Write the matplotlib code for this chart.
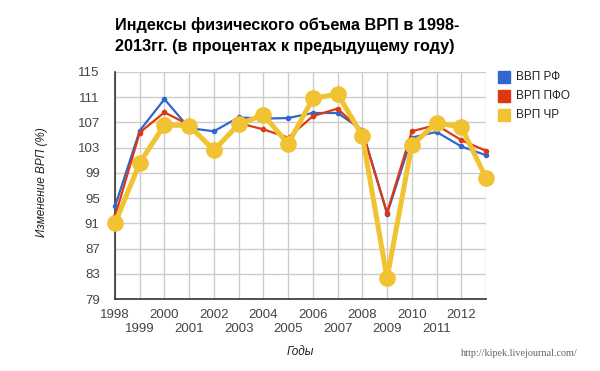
import numpy as np
import matplotlib.pyplot as plt

years = list(range(1998, 2014))
vvp_rf = [93.7, 105.7, 110.7, 106.1, 105.6, 107.8, 107.6, 107.7, 108.5, 108.5, 105.8, 92.5, 104.6, 105.5, 103.2, 101.8]
vrp_pfo = [92.1, 105.4, 108.6, 106.6, 102.6, 106.9, 105.9, 104.6, 108.0, 109.2, 105.5, 92.7, 105.6, 106.6, 104.2, 102.5]
vrp_chr = [91.0, 100.6, 106.6, 106.5, 102.6, 106.7, 108.2, 103.6, 110.8, 111.5, 104.9, 82.3, 103.4, 106.9, 106.3, 98.2]
series_names = ['ВВП РФ', 'ВРП ПФО', 'ВРП ЧР']
colors = ['#3366cc', '#dc3912', '#f1c232']
yticks = list(range(79, 116, 4))

plt.rcParams['font.family'] = ['Liberation Sans', 'DejaVu Sans']

fig = plt.figure(figsize=(6, 3.71), dpi=100)
ax = fig.add_axes([115/600, 1 - 299/371, (486 - 115)/600, (299 - 72)/371])

ax.plot(years, vvp_rf, color=colors[0], lw=1.6, marker='o', ms=3, clip_on=False, zorder=3)
ax.plot(years, vrp_pfo, color=colors[1], lw=1.6, marker='o', ms=3, clip_on=False, zorder=4)
ax.plot(years, vrp_chr, color=colors[2], lw=3.6, marker='o', ms=11, clip_on=False, zorder=5)

# подписи через год в два ряда, последний год без подписи
even = [y for y in years if y % 2 == 0]
odd = [y for y in years if y % 2 == 1]
ax.set_xlim(1998, 2013)
ax.set_ylim(79, 115)
ax.set_yticks(yticks)
ax.set_xticks(even)
ax.set_xticks(odd, minor=True)
ax.set_xticklabels([str(y) for y in even])
ax.set_xticklabels([str(y) if y != 2013 else '' for y in odd], minor=True)
ax.tick_params(axis='x', which='major', length=0, pad=7, labelsize=9.5, labelcolor='#444444')
ax.tick_params(axis='x', which='minor', length=0, pad=17, labelsize=9.5, labelcolor='#444444')
ax.tick_params(axis='y', length=0, pad=11, labelsize=9.5, labelcolor='#444444')
ax.grid(True, which='both', color='#cccccc', lw=1)
ax.set_axisbelow(True)
for s in ['top', 'right']:
    ax.spines[s].set_visible(False)
for s in ['left', 'bottom']:
    ax.spines[s].set_color('#333333')
    ax.spines[s].set_linewidth(1.2)
    ax.spines[s].set_zorder(2)

fig.text(300/600, 1 - 352/371, 'Годы', ha='center', va='center', fontsize=8.5, style='italic', color='#222222')
fig.text(42/600, 1 - 182/371, 'Изменение ВРП (%)', ha='center', va='center', rotation=90,
         fontsize=8.5, style='italic', color='#222222')

fig.text(115/600, 1 - 25/371, 'Индексы физического объема ВРП в 1998-',
         ha='left', va='center', fontsize=11.7, fontweight='bold', color='black')
fig.text(115/600, 1 - 46/371, '2013гг. (в процентах к предыдущему году)',
         ha='left', va='center', fontsize=11.7, fontweight='bold', color='black')

for i, name in enumerate(series_names):
    yy = 1 - (77 + 19*i)/371
    fig.patches.append(plt.Rectangle((498/600, yy - 6/371), 12/600, 12/371, transform=fig.transFigure,
                                     color=colors[i], figure=fig))
    fig.text(516/600, yy, name, ha='left', va='center', fontsize=8.5, color='#222222')

fig.text(578/600, 1 - 353/371, 'http://kipek.livejournal.com/', ha='right', va='center',
         fontsize=7.3, family='Liberation Serif', color='#666666')

fig.savefig('out.png', dpi=100)
